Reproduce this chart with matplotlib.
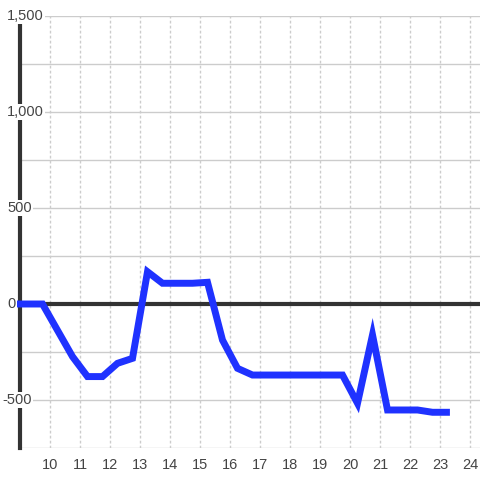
import matplotlib.pyplot as plt
import matplotlib.transforms as mtransforms

# hours of the day and the value at each point
hours = [8.89, 9.75, 10.75, 11.25, 11.75, 12.25, 12.75, 13.25, 13.75, 14.75,
         15.25, 15.75, 16.25, 16.75, 19.75, 20.25, 20.75, 21.25, 22.25, 22.75, 23.33]
values = [0, 0, -274, -378, -378, -309, -283, 168, 108, 108,
          113, -188, -335, -370, -370, -517, -161, -552, -552, -564, -564]

y_ticks = [-500, 0, 500, 1000, 1500]
y_labels = ["-500", "0", "500", "1,000", "1,500"]
x_ticks = list(range(10, 25))

plt.rcParams['font.family'] = ['Liberation Sans', 'DejaVu Sans']

fig = plt.figure(figsize=(4.8, 4.8), dpi=100)
ax = fig.add_axes([20 / 480, 32 / 480, 460 / 480, 432 / 480])

ax.set_xlim(9, 24.333)
ax.set_ylim(-750, 1500)

# grid
for y in range(-750, 1501, 250):
    ax.axhline(y, color='#cccccc', lw=1, zorder=1)
for x in x_ticks:
    ax.axvline(x, color='#cccccc', lw=1, ls=(0, (2, 1.6)), zorder=1)
ax.axhline(0, color='#333333', lw=3, zorder=2)

for s in ['top', 'right', 'bottom']:
    ax.spines[s].set_visible(False)
ax.spines['left'].set_linewidth(3)
ax.spines['left'].set_color('#333333')
ax.spines['left'].set_zorder(2)

ax.plot(hours, values, color='#1f32ff', lw=5, solid_capstyle='butt',
        solid_joinstyle='miter', zorder=3, clip_on=False)

ax.set_yticks([])
ax.set_xticks(x_ticks)
ax.set_xticklabels([str(x) for x in x_ticks])
ax.tick_params(axis='x', length=0, pad=7, labelsize=10.5, labelcolor='#444444')

# y labels drawn inside the chart on a white background
trans = mtransforms.blended_transform_factory(fig.transFigure, ax.transData)
for v, lab in zip(y_ticks, y_labels):
    x0 = 2 / 480 if v < 0 else 7 / 480
    ax.text(x0, v, lab, transform=trans, ha='left', va='center', fontsize=10.5,
            color='#444444', zorder=4, clip_on=False,
            bbox=dict(facecolor='white', edgecolor='none', pad=1))

fig.savefig('out.png', dpi=100)
